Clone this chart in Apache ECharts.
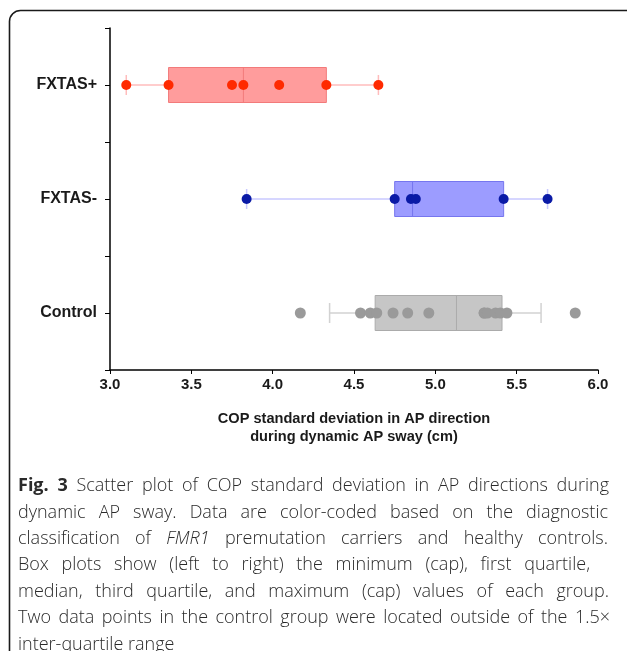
<!DOCTYPE html>
<html><head><meta charset="utf-8">
<script src="https://cdn.jsdelivr.net/npm/echarts@6/dist/echarts.min.js"></script>
<style>html,body{margin:0;padding:0;background:#fff}#c{width:627px;height:651px}</style>
</head><body><div id="c"></div>
<script>
// ---- data ----
var categories = ['FXTAS+', 'FXTAS-', 'Control'];
var xTickLabels = ['3.0', '3.5', '4.0', '4.5', '5.0', '5.5', '6.0'];
var fxtasPlusValues = [3.10, 3.36, 3.75, 3.82, 4.04, 4.33, 4.65];
var fxtasMinusValues = [3.84, 4.75, 4.85, 4.88, 5.42, 5.69];
var controlValues = [4.17, 4.54, 4.60, 4.64, 4.74, 4.83, 4.96, 5.30, 5.30, 5.32, 5.37, 5.40, 5.44, 5.86];
// [min cap, Q1, median, Q3, max cap]
var fxtasPlusBox = [3.10, 3.36, 3.82, 4.33, 4.65];
var fxtasMinusBox = [3.84, 4.75, 4.86, 5.42, 5.69];
var controlBox = [4.35, 4.63, 5.13, 5.41, 5.65];
var xAxisTitle = 'COP standard deviation in AP direction\nduring dynamic AP sway (cm)';
var captionLines = [
  'Fig. 3 Scatter plot of COP standard deviation in AP directions during',
  'dynamic AP sway. Data are color-coded based on the diagnostic',
  'classification of FMR1 premutation carriers and healthy controls.',
  'Box plots show (left to right) the minimum (cap), first quartile,',
  'median, third quartile, and maximum (cap) values of each group.',
  'Two data points in the control group were located outside of the 1.5\u00d7',
  'inter-quartile range'
];
// right edge each line is justified to (null = natural spacing)
var captionRight = [609, 608, 608, 590, 609, 610, null];

// ---- styles ----
var groupStyles = [
  {dot: '#ff2a00', fill: '#ff9c9c', border: '#f27a7a', whisker: '#ffbcbc', size: 10},
  {dot: '#0a1aa6', fill: '#9c9cff', border: '#7676ee', whisker: '#c8c8ff', size: 10},
  {dot: '#9a9a9a', fill: '#c6c6c6', border: '#ababab', whisker: '#d2d2d2', size: 11}
];
var groupValues = [fxtasPlusValues, fxtasMinusValues, controlValues];
var groupBoxes = [fxtasPlusBox, fxtasMinusBox, controlBox];

function makeRender(st) {
  return function (params, api) {
    var c = api.value(0);
    function p(i) { return api.coord([api.value(i), c]); }
    var a = p(1), q1 = p(2), md = p(3), q3 = p(4), b = p(5);
    var y = a[1], hb = 17.5, hc = 10;
    return {
      type: 'group',
      children: [
        {type: 'line', shape: {x1: a[0], y1: y, x2: b[0], y2: y}, style: {stroke: st.whisker, lineWidth: 1.5}},
        {type: 'line', shape: {x1: a[0], y1: y - hc, x2: a[0], y2: y + hc}, style: {stroke: st.whisker, lineWidth: 1.5}},
        {type: 'line', shape: {x1: b[0], y1: y - hc, x2: b[0], y2: y + hc}, style: {stroke: st.whisker, lineWidth: 1.5}},
        {type: 'rect', shape: {x: q1[0], y: y - hb, width: q3[0] - q1[0], height: 2 * hb}, style: {fill: st.fill, stroke: st.border, lineWidth: 1}},
        {type: 'line', shape: {x1: md[0], y1: y - hb, x2: md[0], y2: y + hb}, style: {stroke: st.border, lineWidth: 1}}
      ]
    };
  };
}

var series = [];
groupBoxes.forEach(function (bx, i) {
  series.push({
    type: 'custom', yAxisIndex: 0, z: 2,
    renderItem: makeRender(groupStyles[i]),
    encode: {x: [1, 2, 3, 4, 5], y: 0},
    data: [[i].concat(bx)]
  });
});
groupValues.forEach(function (vals, i) {
  series.push({
    type: 'scatter', yAxisIndex: 0, z: 5,
    symbolSize: groupStyles[i].size,
    itemStyle: {color: groupStyles[i].dot, opacity: 1},
    data: vals.map(function (v) { return [v, categories[i]]; })
  });
});

// ---- caption (justified lines) ----
var capFontSize = 18, capFamily = "'Open Sans', sans-serif", capLeft = 18, capTop = 486, capStep = 26.4;
var mctx = document.createElement('canvas').getContext('2d');
function fontStr(w, s) { return s + ' ' + w + ' ' + capFontSize + 'px ' + capFamily; }
var captionEls = [];
captionLines.forEach(function (line, li) {
  var words = line.split(' ');
  var info = words.map(function (w, wi) {
    var weight = (li === 0 && wi < 2) ? 'bold' : '300';
    var style = (w === 'FMR1') ? 'italic' : 'normal';
    mctx.font = fontStr(weight, style);
    return {w: w, weight: weight, style: style, width: mctx.measureText(w).width};
  });
  mctx.font = fontStr('300', 'normal');
  var space = mctx.measureText(' ').width;
  var total = info.reduce(function (s, o) { return s + o.width; }, 0);
  var gap = space;
  if (captionRight[li] && words.length > 1) {
    gap = Math.max(space * 0.7, (captionRight[li] - capLeft - total) / (words.length - 1));
  }
  var x = capLeft;
  info.forEach(function (o) {
    captionEls.push({
      type: 'text', x: x, y: capTop + li * capStep,
      style: {text: o.w, fill: '#2a2a2a', font: fontStr(o.weight, o.style), verticalAlign: 'middle', align: 'left'}
    });
    x += o.width + gap;
  });
});

var option = {
  animation: false,
  backgroundColor: '#fff',
  grid: {left: 110, right: 29, top: 28, bottom: 281, containLabel: false},
  xAxis: {
    type: 'value', min: 3, max: 6, interval: 0.5,
    axisLine: {show: true, lineStyle: {color: '#000', width: 1.5}},
    axisTick: {show: true, length: 4, lineStyle: {color: '#000', width: 1}},
    splitLine: {show: false},
    axisLabel: {
      margin: 7, color: '#1a1a1a', fontFamily: 'Liberation Sans, Arial, sans-serif', fontWeight: 'bold', fontSize: 15,
      formatter: function (v, idx) { return xTickLabels[idx] !== undefined ? xTickLabels[idx] : v.toFixed(1); }
    },
    name: xAxisTitle, nameLocation: 'middle', nameGap: 40,
    nameTextStyle: {color: '#1a1a1a', fontFamily: 'Liberation Sans, Arial, sans-serif', fontWeight: 'bold', fontSize: 14.6, lineHeight: 18}
  },
  yAxis: [{
    type: 'category', data: categories, inverse: true,
    axisLine: {show: true, lineStyle: {color: '#000', width: 1.5}},
    axisTick: {show: true, length: 5, lineStyle: {color: '#000', width: 1}},
    axisLabel: {margin: 13, color: '#1a1a1a', fontFamily: 'Liberation Sans, Arial, sans-serif', fontWeight: 'bold', fontSize: 16},
    splitLine: {show: false}
  }, {
    type: 'category', data: categories, inverse: true, position: 'left',
    axisLine: {show: false},
    axisTick: {show: true, alignWithLabel: true, length: 5, lineStyle: {color: '#000', width: 1}},
    axisLabel: {show: false},
    splitLine: {show: false}
  }],
  series: series,
  graphic: [{
    type: 'rect', silent: true, z: -1,
    shape: {x: 9.5, y: 10.5, width: 680, height: 700, r: 11},
    style: {fill: 'none', stroke: '#1a1a1a', lineWidth: 1.6}
  }].concat(captionEls)
};

var chart = echarts.init(document.getElementById('c'));
chart.setOption(option);
</script>
</body></html>
